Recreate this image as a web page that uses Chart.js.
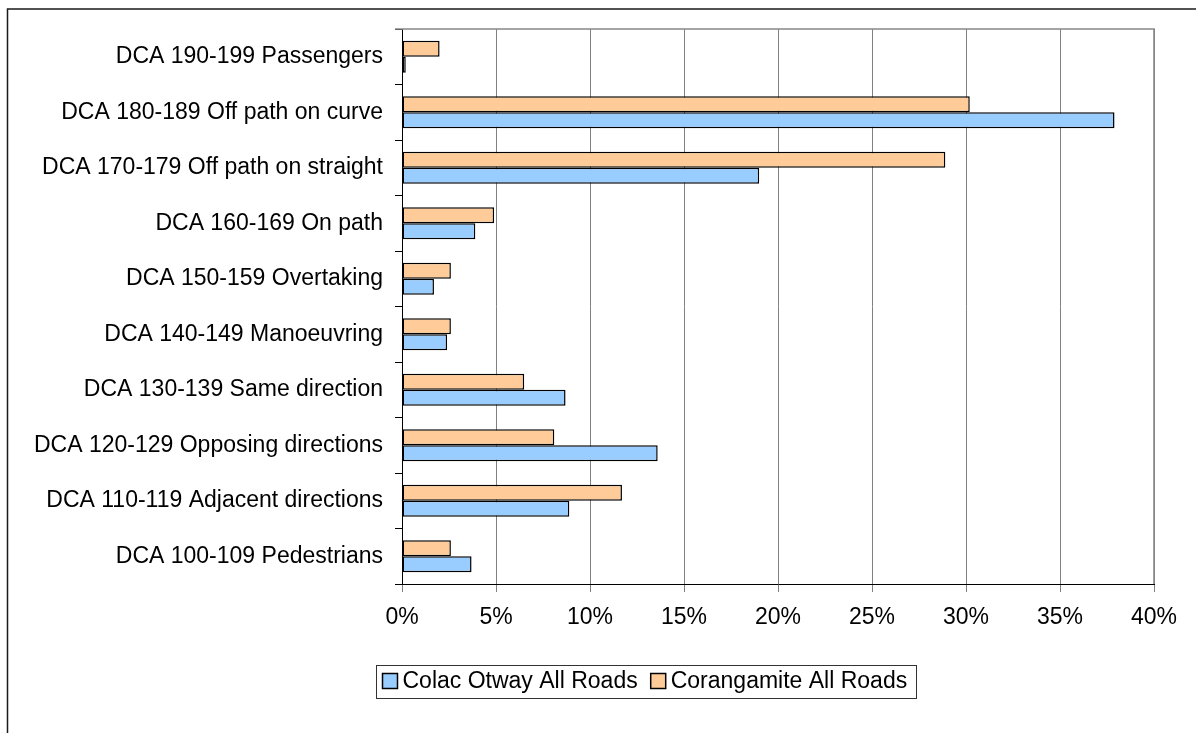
<!DOCTYPE html>
<html>
<head>
<meta charset="utf-8">
<script src="https://cdn.jsdelivr.net/npm/chart.js@4"></script>
<style>
  html, body { margin: 0; padding: 0; background: #fff; }
  #wrap { width: 1196px; height: 733px; }
</style>
</head>
<body>
<div id="wrap"><canvas id="c" width="1196" height="733"></canvas></div>
<script>
// Crash types (DCA codes), listed top to bottom
const categories = [
  'DCA 190-199 Passengers',
  'DCA 180-189 Off path on curve',
  'DCA 170-179 Off path on straight',
  'DCA 160-169 On path',
  'DCA 150-159 Overtaking',
  'DCA 140-149 Manoeuvring',
  'DCA 130-139 Same direction',
  'DCA 120-129 Opposing directions',
  'DCA 110-119 Adjacent directions',
  'DCA 100-109 Pedestrians'
];

// Share of crashes (%)
const colacOtway  = [0.2, 37.9, 19.0, 3.9, 1.7, 2.4, 8.7, 13.6, 8.9, 3.7];
const corangamite = [2.0, 30.2, 28.9, 4.9, 2.6, 2.6, 6.5, 8.1, 11.7, 2.6];

const seriesNames = ['Colac Otway All Roads', 'Corangamite All Roads'];
const xTicks = [0, 5, 10, 15, 20, 25, 30, 35, 40];

const FONT = '"Liberation Sans", Arial, Helvetica, sans-serif';
const BLUE = '#99CCFF';
const ORANGE = '#FFCC99';

// Frame, outer border and the boxed legend
const decor = {
  id: 'decor',
  beforeDraw(chart) {
    const ctx = chart.ctx;
    ctx.save();
    ctx.fillStyle = '#fff';
    ctx.fillRect(0, 0, chart.width, chart.height);
    ctx.restore();
  },
  beforeDatasetsDraw(chart) {
    const { ctx, chartArea: a } = chart;
    ctx.save();
    ctx.strokeStyle = '#888';
    ctx.lineWidth = 1.6;
    ctx.beginPath();
    ctx.moveTo(a.left - 7, a.top);
    ctx.lineTo(a.right, a.top);
    ctx.lineTo(a.right, a.bottom);
    ctx.stroke();
    ctx.restore();
  },
  afterDraw(chart) {
    const ctx = chart.ctx;
    ctx.save();
    // outer border (top and left edges)
    ctx.strokeStyle = '#1a1a1a';
    ctx.lineWidth = 1.5;
    ctx.beginPath();
    ctx.moveTo(7.5, chart.height);
    ctx.lineTo(7.5, 9);
    ctx.lineTo(chart.width, 9);
    ctx.stroke();

    // legend: Colac Otway first, then Corangamite
    ctx.font = '23px ' + FONT;
    ctx.textBaseline = 'middle';
    const items = chart.data.datasets.slice().reverse();
    const marker = 15, gapMarkerText = 5, gapItems = 13, padL = 6, padR = 9;
    let w = padL + padR;
    items.forEach((d, i) => {
      w += marker + gapMarkerText + ctx.measureText(d.label).width;
      if (i < items.length - 1) w += gapItems;
    });
    const h = 33;
    const cx = 646, cy = 681;
    const left = Math.round(cx - w / 2) + 0.5;
    const top = Math.round(cy - h / 2) + 0.5;
    ctx.strokeStyle = '#333';
    ctx.lineWidth = 1;
    ctx.strokeRect(left, top, Math.round(w), h);
    let x = left + padL;
    items.forEach((d) => {
      ctx.fillStyle = d.backgroundColor;
      ctx.fillRect(x, cy - marker / 2, marker, marker);
      ctx.strokeStyle = '#000';
      ctx.lineWidth = 1.5;
      ctx.strokeRect(x, cy - marker / 2, marker, marker);
      x += marker + gapMarkerText;
      ctx.fillStyle = '#000';
      ctx.fillText(d.label, x, cy + 1);
      x += ctx.measureText(d.label).width + gapItems;
    });
    ctx.restore();
  }
};

new Chart(document.getElementById('c'), {
  type: 'bar',
  data: {
    labels: categories,
    datasets: [
      {
        label: seriesNames[1],
        data: corangamite,
        backgroundColor: ORANGE,
        borderColor: '#000',
        borderWidth: 1.5,
        borderSkipped: false,
        barPercentage: 1.0,
        categoryPercentage: 0.578
      },
      {
        label: seriesNames[0],
        data: colacOtway,
        backgroundColor: BLUE,
        borderColor: '#000',
        borderWidth: 1.5,
        borderSkipped: false,
        barPercentage: 1.0,
        categoryPercentage: 0.578
      }
    ]
  },
  options: {
    indexAxis: 'y',
    responsive: false,
    animation: false,
    devicePixelRatio: 1,
    layout: { padding: { left: 0, top: 29, right: 42, bottom: 0 } },
    plugins: {
      legend: { display: false },
      tooltip: { enabled: false }
    },
    scales: {
      x: {
        min: 0,
        max: 40,
        afterBuildTicks(scale) {
          scale.ticks = xTicks.map(v => ({ value: v }));
        },
        afterFit(scale) { scale.height = 149; },
        grid: {
          color: '#808080',
          lineWidth: 1,
          tickColor: '#808080',
          tickLength: 8
        },
        border: { color: '#000', width: 1 },
        ticks: {
          color: '#000',
          font: { family: FONT, size: 23 },
          padding: 12,
          maxRotation: 0,
          callback: (v) => v + '%'
        }
      },
      y: {
        afterFit(scale) { scale.width = 402; },
        grid: {
          drawOnChartArea: false,
          tickColor: '#000',
          tickLength: 7,
          offset: true
        },
        border: { color: '#000', width: 1 },
        ticks: {
          color: '#000',
          font: { family: FONT, size: 23 },
          padding: 12,
          autoSkip: false
        }
      }
    }
  },
  plugins: [decor]
});
</script>
</body>
</html>
